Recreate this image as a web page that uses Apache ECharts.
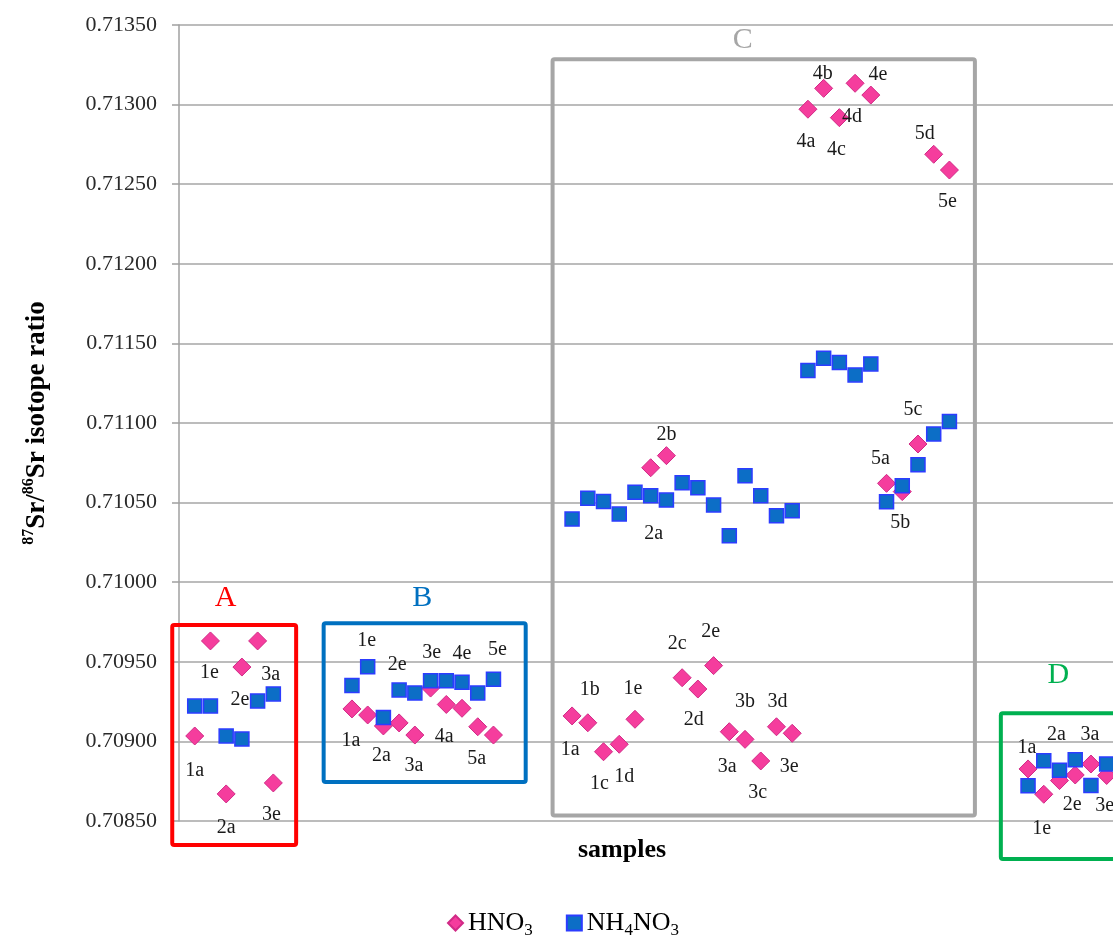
<!DOCTYPE html>
<html>
<head>
<meta charset="utf-8">
<title>87Sr/86Sr isotope ratio of samples</title>
<script src="https://cdn.jsdelivr.net/npm/echarts@6/dist/echarts.min.js"></script>
<style>
  html, body { margin: 0; padding: 0; overflow: hidden; background: #ffffff; }
  #chart { width: 1260px; height: 936px; }
</style>
</head>
<body>
<div id="chart"></div>
<script>
// ---- Sample groups: names and measured 87Sr/86Sr ratios ----
const samplesA = ['1a', '1e', '2a', '2e', '3a', '3e'];
const hno3A    = [0.709034, 0.709631, 0.708670, 0.709467, 0.709631, 0.708739];
const nh4no3A  = [0.709222, 0.709222, 0.709034, 0.709015, 0.709254, 0.709298];

const samplesB = ['1a', '1e', '2a', '2e', '3a', '3e', '4a', '4e', '5a', '5e'];
const hno3B    = [0.709204, 0.709166, 0.709097, 0.709116, 0.709040, 0.709335, 0.709232, 0.709208, 0.709092, 0.709040];
const nh4no3B  = [0.709351, 0.709469, 0.709150, 0.709323, 0.709304, 0.709381, 0.709381, 0.709371, 0.709304, 0.709390];

const samplesC = ['1a', '1b', '1c', '1d', '1e', '2a', '2b', '2c', '2d', '2e',
                  '3a', '3b', '3c', '3d', '3e', '4a', '4b', '4c', '4d', '4e',
                  '5a', '5b', '5c', '5d', '5e'];
const hno3C    = [0.709160, 0.709117, 0.708935, 0.708982, 0.709139,
                  0.710719, 0.710795, 0.709400, 0.709329, 0.709476,
                  0.709061, 0.709013, 0.708877, 0.709092, 0.709051,
                  0.712971, 0.713102, 0.712918, 0.713134, 0.713060,
                  0.710621, 0.710569, 0.710868, 0.712688, 0.712589];
const nh4no3C  = [0.710397, 0.710527, 0.710507, 0.710428, 0.710565,
                  0.710543, 0.710516, 0.710625, 0.710594, 0.710485,
                  0.710292, 0.710669, 0.710543, 0.710418, 0.710449,
                  0.711329, 0.711406, 0.711380, 0.711302, 0.711371,
                  0.710506, 0.710606, 0.710738, 0.710931, 0.711009];

const samplesD = ['1a', '1e', '2a', '2e', '3a', '3e'];
const hno3D    = [0.708827, 0.708668, 0.708754, 0.708789, 0.708858, 0.708786];
const nh4no3D  = [0.708722, 0.708878, 0.708819, 0.708885, 0.708723, 0.708858];

const groupNames = ['A', 'B', 'C', 'D'];
const yTicks = [0.70850, 0.70900, 0.70950, 0.71000, 0.71050, 0.71100, 0.71150, 0.71200, 0.71250, 0.71300, 0.71350];

// ---- Layout (axis positions, frames, label placement) ----
const GAP = 4;              // empty sample slots between groups
const groupFrames = [       // [xFrom, xTo, ratioTop, ratioBottom, titleX, titleRatio]
  [-0.43, 7.45, 0.709731, 0.708349, 2.97, 0.709901],
  [9.20, 22.05, 0.709742, 0.708745, 15.47, 0.709901],
  [23.76, 50.62, 0.713285, 0.708535, 35.85, 0.713406],
  [52.27, 61.00, 0.709177, 0.708261, 55.92, 0.709417]
];
const groupColors = ['#ff0000', '#0070c0', '#a6a6a6', '#00b050'];

// sample label placement: [series ('h' = HNO3, 'n' = NH4NO3), dx, dy] in px
const labelPlacement = {
  A: { '1a': ['h', 0, 35], '1e': ['h', -1, 32], '2a': ['h', 0, 34], '2e': ['h', -2, 33], '3a': ['h', 13, 34], '3e': ['h', -2, 32] },
  B: { '1a': ['h', -1, 32], '1e': ['n', -1, -26], '2a': ['h', -2, 30], '2e': ['n', -2, -25], '3a': ['h', -1, 31],
       '3e': ['n', 1, -28], '4a': ['h', -2, 32], '4e': ['n', 0, -29], '5a': ['h', -1, 32], '5e': ['n', 4, -30] },
  C: { '1a': ['h', -2, 34], '1b': ['h', 2, -33], '1c': ['h', -4, 32], '1d': ['h', 5, 32], '1e': ['h', -2, -31],
       '2a': ['h', 3, 66], '2b': ['h', 0, -21], '2c': ['h', -5, -34], '2d': ['h', -4, 31], '2e': ['h', -3, -34],
       '3a': ['h', -2, 35], '3b': ['h', 0, -38], '3c': ['h', -3, 32], '3d': ['h', 1, -25], '3e': ['h', -3, 33],
       '4a': ['h', -2, 33], '4b': ['h', -1, -15], '4c': ['h', -3, 32], '4d': ['h', -3, 33], '4e': ['h', 7, -20],
       '5a': ['h', -6, -25], '5b': ['h', -2, 31], '5c': ['h', -5, -34], '5d': ['h', -9, -21], '5e': ['h', -2, 32] },
  D: { '1a': ['h', -1, -21], '1e': ['h', -2, 34], '2a': ['h', -3, -46], '2e': ['h', -3, 30], '3a': ['h', -1, -29], '3e': ['h', -2, 30] }
};

const SERIF = '"Liberation Serif", "Times New Roman", serif';
const groups = [
  { key: 'A', names: samplesA, h: hno3A, n: nh4no3A },
  { key: 'B', names: samplesB, h: hno3B, n: nh4no3B },
  { key: 'C', names: samplesC, h: hno3C, n: nh4no3C },
  { key: 'D', names: samplesD, h: hno3D, n: nh4no3D }
];

// Build scatter data: samples are placed in sequence along x, groups separated by GAP slots.
// Also returns the per-point label shift used by labelLayout.
function buildPoints(which) {
  const data = [];
  const shifts = [];
  let x = 1;
  groups.forEach(function (g) {
    g.names.forEach(function (name, i) {
      const item = { value: [x, g[which][i]], name: g.key + ' ' + name };
      const lp = labelPlacement[g.key][name];
      if (lp && lp[0] === which) {
        item.label = { show: true, formatter: name };
        shifts.push([lp[1], lp[2]]);
      } else {
        shifts.push([0, 0]);
      }
      data.push(item);
      x += 1;
    });
    x += GAP;
  });
  return { data: data, shifts: shifts };
}

const hPoints = buildPoints('h');
const nPoints = buildPoints('n');

function shiftLayout(shifts) {
  return function (params) {
    const s = shifts[params.dataIndex] || [0, 0];
    return { dx: s[0], dy: s[1], hideOverlap: false };
  };
}

const chart = echarts.init(document.getElementById('chart'), null, { renderer: 'canvas' });

const labelBase = {
  show: false,
  position: 'inside',
  color: '#1a1a1a',
  fontFamily: SERIF,
  fontSize: 20,
  align: 'center',
  verticalAlign: 'middle'
};

chart.setOption({
  animation: false,
  backgroundColor: '#ffffff',
  grid: { left: 179, top: 25, width: 1022, height: 796, containLabel: false },
  title: {
    text: 'samples',
    left: 578, top: 837, padding: 0,
    textStyle: { fontFamily: SERIF, fontSize: 26, fontWeight: 'bold', color: '#000000' }
  },
  legend: {
    data: ['HNO3', 'NH4NO3'],
    left: 442, top: 905,
    itemWidth: 15, itemHeight: 15, itemGap: 33,
    selectedMode: false,
    formatter: function (name) {
      return name === 'HNO3' ? '{m|HNO}{s|3}' : '{m|NH}{s|4}{m|NO}{s|3}';
    },
    textStyle: {
      color: '#000000',
      fontFamily: SERIF,
      rich: {
        m: { fontFamily: SERIF, fontSize: 26, color: '#000000', lineHeight: 30 },
        s: { fontFamily: SERIF, fontSize: 17, color: '#000000', verticalAlign: 'bottom', lineHeight: 17, padding: [0, 0, -1, 0] }
      }
    }
  },
  xAxis: {
    type: 'value',
    min: 0, max: 65,
    axisLine: { show: false },
    axisTick: { show: false },
    axisLabel: { show: false },
    splitLine: { show: false }
  },
  yAxis: {
    type: 'value',
    min: yTicks[0], max: yTicks[yTicks.length - 1], interval: 0.0005,
    name: '{p|87}{b|Sr/}{p|86}{b|Sr isotope ratio}',
    nameLocation: 'middle', nameRotate: 90, nameGap: 126,
    nameTextStyle: {
      rich: {
        b: { fontFamily: SERIF, fontSize: 27, fontWeight: 'bold', color: '#000000', lineHeight: 32 },
        p: { fontFamily: SERIF, fontSize: 16, fontWeight: 'bold', color: '#000000', verticalAlign: 'top', lineHeight: 16 }
      }
    },
    axisLine: { show: true, lineStyle: { color: '#a0a0a0', width: 1.5 } },
    axisTick: { show: true, length: 7, lineStyle: { color: '#a0a0a0', width: 1.5 } },
    axisLabel: {
      margin: 22, color: '#2a2a2a', fontFamily: SERIF, fontSize: 22,
      formatter: function (v) { return v.toFixed(5); }
    },
    splitLine: { show: true, lineStyle: { color: '#a6a6a6', width: 1.5 } }
  },
  series: [
    {
      type: 'custom',
      name: 'groups',
      z: 1,
      clip: false,
      silent: true,
      renderItem: function (params, api) {
        const p0 = api.coord([api.value(0), api.value(2)]);
        const p1 = api.coord([api.value(1), api.value(3)]);
        const t = api.coord([api.value(4), api.value(5)]);
        const c = groupColors[params.dataIndex];
        return {
          type: 'group',
          children: [
            {
              type: 'rect',
              shape: { x: p0[0], y: p0[1], width: p1[0] - p0[0], height: p1[1] - p0[1], r: 2 },
              style: { fill: 'none', stroke: c, lineWidth: 4 }
            },
            {
              type: 'text',
              x: t[0], y: t[1],
              style: {
                text: groupNames[params.dataIndex], fill: c,
                font: '30px "Liberation Serif", "Times New Roman", serif',
                align: 'center', verticalAlign: 'middle'
              }
            }
          ]
        };
      },
      data: groupFrames
    },
    {
      type: 'scatter',
      name: 'HNO3',
      z: 3,
      symbol: 'diamond',
      symbolSize: 18,
      itemStyle: { color: '#f53d9d', borderColor: '#d12a86', borderWidth: 1, opacity: 1 },
      label: labelBase,
      labelLayout: shiftLayout(hPoints.shifts),
      data: hPoints.data
    },
    {
      type: 'scatter',
      name: 'NH4NO3',
      z: 4,
      symbol: 'rect',
      symbolSize: 14,
      itemStyle: { color: '#0c6ec6', borderColor: '#2c3cff', borderWidth: 1.5, opacity: 1 },
      label: labelBase,
      labelLayout: shiftLayout(nPoints.shifts),
      data: nPoints.data
    }
  ]
});
</script>
</body>
</html>
